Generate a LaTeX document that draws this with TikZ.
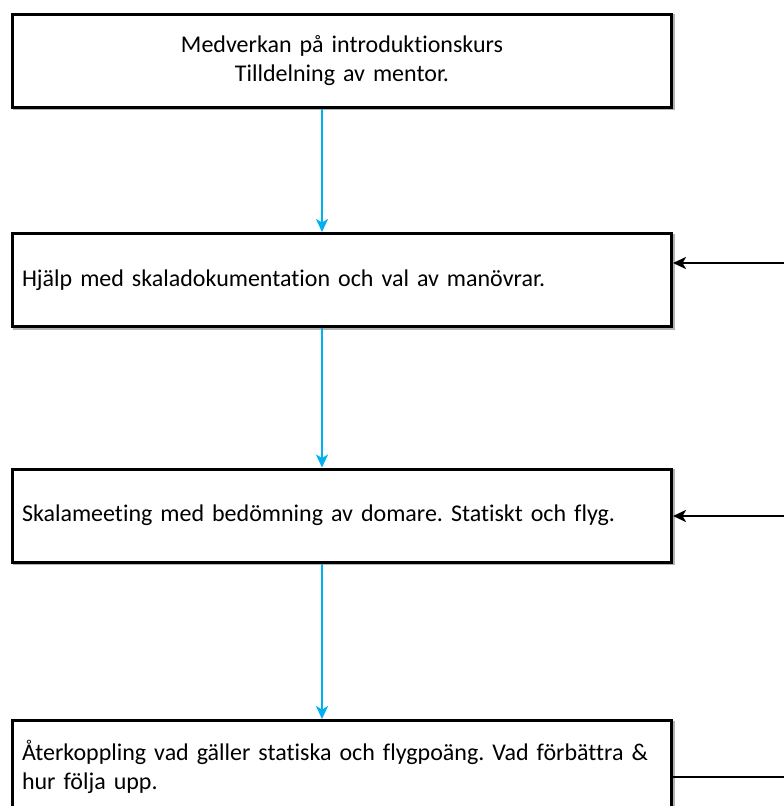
\documentclass[tikz,border=0pt]{standalone}
\usepackage{fontspec}
\setmainfont[Ligatures={NoCommon}]{Carlito}
\frenchspacing
\usetikzlibrary{arrows.meta}
\definecolor{flowblue}{RGB}{0,176,240}
\tikzset{
  box/.style={draw=black, line width=3pt, fill=white, rectangle,
    minimum width=659pt, minimum height=93pt, inner xsep=8pt,
    font=\fontsize{24}{29}\selectfont, anchor=north west},
  shadowbox/.style={draw=black!30, line width=3pt, rectangle,
    minimum width=659pt, minimum height=93pt, anchor=north west},
  bluearrow/.style={draw=flowblue, line width=2pt,
    -{Stealth[length=13pt,width=12pt,inset=3.5pt]}},
  blackarrow/.style={draw=black, line width=2.4pt,
    -{Stealth[length=13pt,width=12pt,inset=3.5pt]}},
  blackline/.style={draw=black, line width=2.4pt}
}
\begin{document}
\begin{tikzpicture}[x=1pt,y=-1pt]
\useasboundingbox (0,0) rectangle (784,806);
\clip (0,0) rectangle (784,806);
% shadows
\node[shadowbox] at (12.5,14) {};
\node[shadowbox] at (12.5,233.5) {};
\node[shadowbox] at (12.5,469) {};
\node[shadowbox] at (12.5,720.5) {};
% boxes
\node[box, align=center, text width=640pt] (b1) at (11,12.5)
  {Medverkan på introduktionskurs\\Tilldelning av mentor.};
\node[box, align=left, text width=640pt] (b2) at (11,232)
  {Hjälp med skaladokumentation och val av manövrar.};
\node[box, align=left, text width=640pt] (b3) at (11,467.5)
  {Skalameeting med bedömning av domare. Statiskt och flyg.};
\node[box, align=left, text width=640pt] (b4) at (11,719)
  {Återkoppling vad gäller statiska och flygpoäng. Vad förbättra \&\\hur följa upp.};
% reference coordinates
\coordinate (ax) at (322,0);
\coordinate (r2) at (784,263);
\coordinate (r3) at (784,516);
\coordinate (r4) at (784,777);
% connectors
\draw[bluearrow] (b1.south -| ax) -- (b2.north -| ax);
\draw[bluearrow] (b2.south -| ax) -- (b3.north -| ax);
\draw[bluearrow] (b3.south -| ax) -- (b4.north -| ax);
\draw[blackarrow] (r2) -- (r2 -| b2.east);
\draw[blackarrow] (r3) -- (r3 -| b3.east);
\draw[blackline] (r4 -| b4.east) -- (r4);
\end{tikzpicture}
\end{document}
